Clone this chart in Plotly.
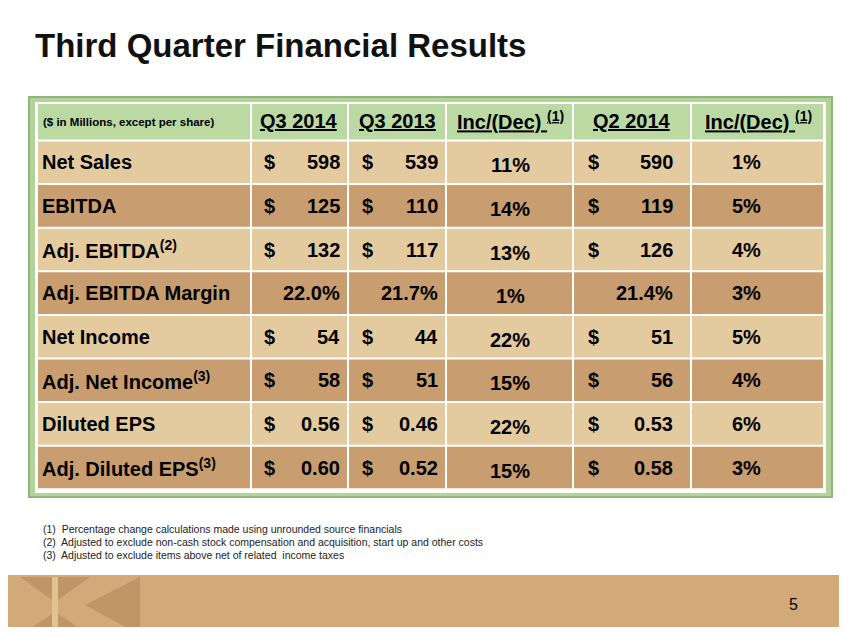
import plotly.graph_objects as go

rows = ["Net Sales", "EBITDA", "Adj. EBITDA<sup>(2)</sup>", "Adj. EBITDA Margin",
        "Net Income", "Adj. Net Income<sup>(3)</sup>", "Diluted EPS", "Adj. Diluted EPS<sup>(3)</sup>"]
headers = ["Q3 2014", "Q3 2013", "Inc/(Dec) <sup>(1)</sup>", "Q2 2014", "Inc/(Dec) <sup>(1)</sup>"]
q3_2014 = ["598", "125", "132", "22.0%", "54", "58", "0.56", "0.60"]
q3_2013 = ["539", "110", "117", "21.7%", "44", "51", "0.46", "0.52"]
inc_yoy = ["11%", "14%", "13%", "1%", "22%", "15%", "22%", "15%"]
q2_2014 = ["590", "119", "126", "21.4%", "51", "56", "0.53", "0.58"]
inc_qoq = ["1%", "5%", "4%", "3%", "5%", "4%", "6%", "3%"]
has_dollar = [True, True, True, False, True, True, True, True]
footnotes = ["(1)  Percentage change calculations made using unrounded source financials",
             "(2)  Adjusted to exclude non-cash stock compensation and acquisition, start up and other costs",
             "(3)  Adjusted to exclude items above net of related  income taxes"]

W, H = 847, 635
OFF = 8  # page body margin
col_edges = [37, 251, 348, 446, 573, 691, 824]
top, head_h, row_h = 103, 37.5, 43.6
LIGHT, DARK, GREEN = "#e3cb9f", "#c89d6f", "#bad9a3"
FAM = "Liberation Sans"
FS = 20

fig = go.Figure()
shapes, ann = [], []

# frame
shapes.append(dict(type="rect", x0=29, x1=832, y0=97, y1=497, fillcolor="#b3d39a",
                   line=dict(color="#8fb676", width=2)))
shapes.append(dict(type="rect", x0=35, x1=826, y0=102, y1=493, fillcolor="white", line_width=0))

def cell(x0, x1, y0, y1, color):
    shapes.append(dict(type="rect", x0=x0 + 1, x1=x1 - 1, y0=y0 + 1, y1=y1 - 1,
                       fillcolor=color, line_width=0))

# header
for i in range(6):
    cell(col_edges[i], col_edges[i + 1], top, top + head_h, GREEN)
ann.append(dict(x=col_edges[0] + 4, y=top + head_h / 2, text="<b>($ in Millions, except per share)</b>",
                xanchor="left", font=dict(size=11.5)))
hx = [299, 397, 510, 632, 758]
for x, h in zip(hx, headers):
    ann.append(dict(x=x, y=top + head_h / 2 - 1, text="<b><u>%s</u></b>" % h, font=dict(size=FS)))

for r, name in enumerate(rows):
    y0 = top + head_h + r * row_h
    ym = y0 + row_h / 2
    color = DARK if r % 2 else LIGHT
    for i in range(6):
        cell(col_edges[i], col_edges[i + 1], y0, y0 + row_h, color)
    ann.append(dict(x=col_edges[0] + 3, y=ym, text="<b>%s</b>" % name, xanchor="left",
                    font=dict(size=FS)))
    for ci, vals, dx in [(1, q3_2014, 262), (2, q3_2013, 360), (4, q2_2014, 586)]:
        xr = col_edges[ci + 1] - 6 - (10 if ci == 4 else 0)
        if has_dollar[r]:
            ann.append(dict(x=dx, y=ym, text="<b>$</b>", xanchor="left", font=dict(size=FS)))
        ann.append(dict(x=xr, y=ym, text="<b>%s</b>" % vals[r], xanchor="right", font=dict(size=FS)))
    ann.append(dict(x=510, y=ym + 3, text="<b>%s</b>" % inc_yoy[r], font=dict(size=FS)))
    ann.append(dict(x=746, y=ym, text="<b>%s</b>" % inc_qoq[r], font=dict(size=FS)))

# title
ann.append(dict(x=33, y=45, text="<b>Third Quarter Financial Results</b>", xanchor="left",
                font=dict(size=33, color="#111111")))
for i, t in enumerate(footnotes):
    ann.append(dict(x=41, y=529 + i * 13, text=t, xanchor="left",
                    font=dict(size=10.5, family="Liberation Sans Narrow, Liberation Sans", color="#222222")))

# bottom band and logo
shapes.append(dict(type="rect", x0=0, x1=W + OFF, y0=575, y1=H + OFF, fillcolor="#d1aa78", line_width=0))
shapes.append(dict(type="path", path="M 20 577 L 90 577 L 55 602 Z", fillcolor="#c09666", line_width=0))
shapes.append(dict(type="path", path="M 140 577 L 85 605 L 140 635 Z", fillcolor="#c09666", line_width=0))
shapes.append(dict(type="path", path="M 20 635 L 55 612 L 90 635 Z", fillcolor="#c09666", line_width=0))
shapes.append(dict(type="rect", x0=52, x1=58, y0=577, y1=635, fillcolor="#e0c295", line_width=0))
ann.append(dict(x=793, y=604, text="5", font=dict(size=16)))

for a in ann:
    a.setdefault("showarrow", False)
    a["xref"], a["yref"] = "x", "y"
for s in shapes:
    s["xref"], s["yref"] = "x", "y"
    s["layer"] = "below"

fig.update_layout(width=W - 2 * OFF, height=H - 2 * OFF, margin=dict(l=0, r=0, t=0, b=0),
                  font=dict(family=FAM, color="black"),
                  plot_bgcolor="white", paper_bgcolor="white",
                  shapes=shapes, annotations=ann, showlegend=False,
                  xaxis=dict(range=[OFF, W - OFF], visible=False, fixedrange=True),
                  yaxis=dict(range=[H - OFF, OFF], visible=False, fixedrange=True))
fig.write_html("out.html")
